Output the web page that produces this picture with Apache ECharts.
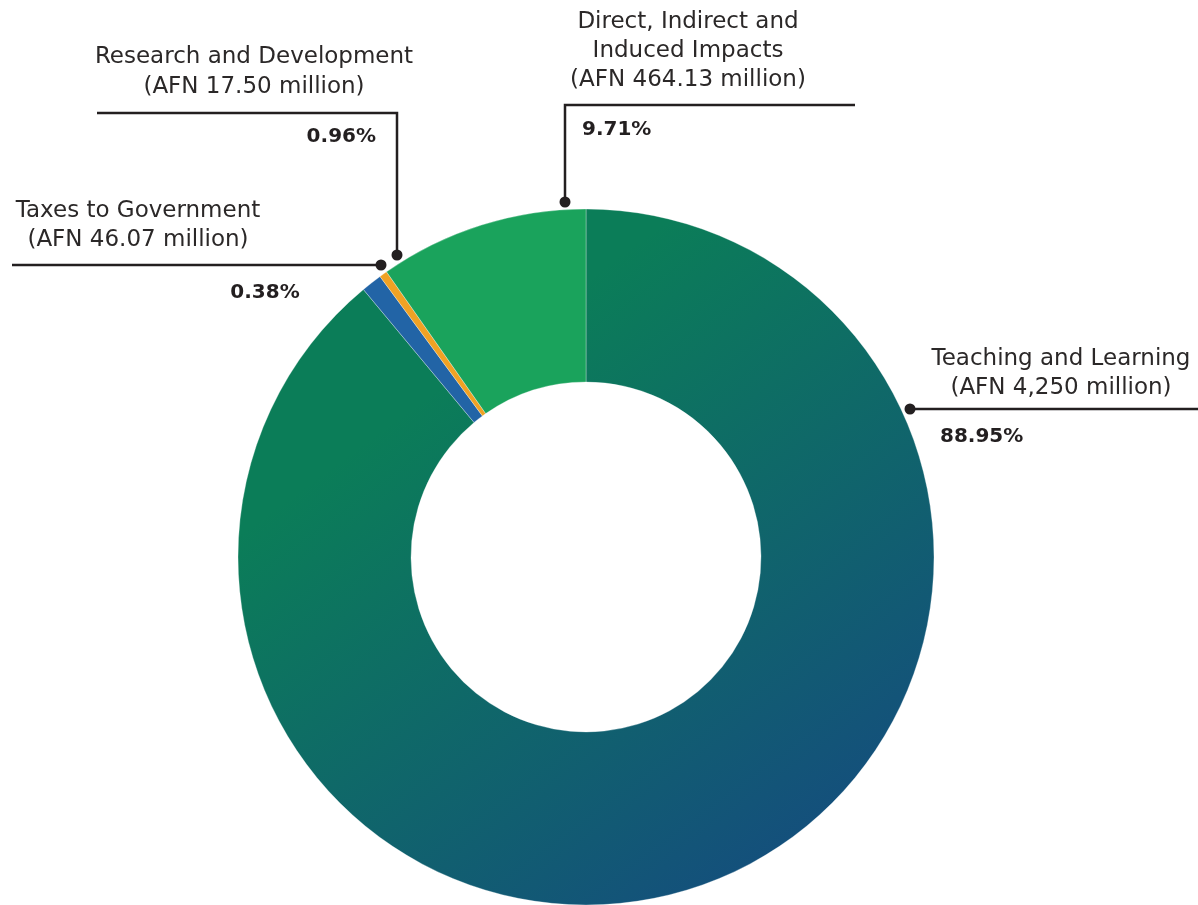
<!DOCTYPE html>
<html><head><meta charset="utf-8">
<script src="https://cdn.jsdelivr.net/npm/echarts@6/dist/echarts.min.js"></script>
<style>html,body{margin:0;padding:0;background:#fff}#c{width:1198px;height:905px}</style>
</head><body><div id="c"></div>
<script>
const categories = ['Teaching and Learning', 'Taxes to Government', 'Research and Development', 'Direct, Indirect and Induced Impacts'];
const nameLines = [['Teaching and Learning'], ['Taxes to Government'], ['Research and Development'], ['Direct, Indirect and', 'Induced Impacts']];
const amountLabels = ['(AFN 4,250 million)', '(AFN 46.07 million)', '(AFN 17.50 million)', '(AFN 464.13 million)'];
const values = [4250, 46.07, 17.50, 464.13];
const percentLabels = ['88.95%', '0.38%', '0.96%', '9.71%'];

const chart = echarts.init(document.getElementById('c'));
const ink = '#231f20';
const font = '"DejaVu Sans", "Open Sans", sans-serif';

const colors = [
  {type:'linear', x:0.3, y:0.25, x2:0.85, y2:1, colorStops:[{offset:0,color:'#0b7d58'},{offset:1,color:'#154a80'}]},
  '#2264a6', '#f0a224', '#1aa35c'
];

// annotation layout (pixel placement of label blocks)
const ann = [
  {dot:[910,409], line:[[910,409],[1198,409]], textX:1061, textY:[359,388], pctX:940, pctY:437, pctAlign:'left'},
  {dot:[381,265], line:[[381,265],[12,265]], textX:138, textY:[211,240], pctX:265, pctY:293, pctAlign:'center'},
  {dot:[397,255], line:[[397,255],[397,113],[97,113]], textX:254, textY:[57,87], pctX:376, pctY:137, pctAlign:'right'},
  {dot:[565,202], line:[[565,202],[565,105],[855,105]], textX:688, textY:[22,51,80], pctX:582, pctY:130, pctAlign:'left'}
];

const graphics = [];
ann.forEach((a, i) => {
  graphics.push({type:'polyline', shape:{points:a.line}, style:{stroke:ink, lineWidth:2.5, fill:null}, z:10});
  graphics.push({type:'circle', shape:{cx:a.dot[0], cy:a.dot[1], r:5.5}, style:{fill:ink}, z:11});
  const lines = nameLines[i].concat([amountLabels[i]]);
  lines.forEach((t, k) => {
    graphics.push({type:'text', x:a.textX, y:a.textY[k], style:{text:t, font:'400 23px ' + font, fill:'#2b2828', align:'center', verticalAlign:'middle'}, z:10});
  });
  graphics.push({type:'text', x:a.pctX, y:a.pctY, style:{text:percentLabels[i], font:'700 20px ' + font, fill:ink, align:a.pctAlign, verticalAlign:'middle'}, z:10});
});

chart.setOption({
  animation:false,
  backgroundColor:'#fff',
  graphic: graphics,
  series:[{
    type:'pie',
    center:[586, 557],
    radius:[175, 348],
    startAngle:90,
    clockwise:true,
    label:{show:false},
    labelLine:{show:false},
    itemStyle:{borderColor:'rgba(255,255,255,0.6)', borderWidth:0.5},
    data: categories.map((c, i) => ({name:c, value:values[i], itemStyle:{color:colors[i]}}))
  }]
});
</script></body></html>
